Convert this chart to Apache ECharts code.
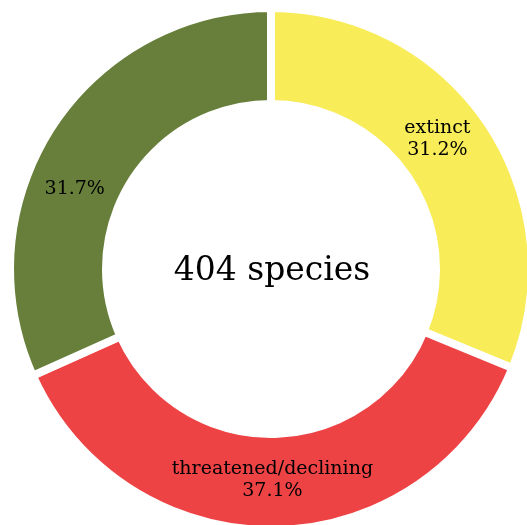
<!DOCTYPE html>
<html>
<head>
<meta charset="utf-8">
<script src="https://cdn.jsdelivr.net/npm/echarts@6/dist/echarts.min.js"></script>
<style>
html,body{margin:0;padding:0;background:#fff;}
#chart{width:527px;height:525px;}
</style>
</head>
<body>
<div id="chart"></div>
<script>
const categories = ['extinct', 'threatened/declining', ''];
const values = [31.2, 37.1, 31.7];
const colors = ['#F8EC58', '#EE4345', '#677F3B'];
const labelOffsets = [[-13, -10], [-2, -5], [-15, 38]];
const totalSpecies = 404;

const chart = echarts.init(document.getElementById('chart'));
const data = categories.map((name, i) => ({
  name: name,
  value: values[i],
  itemStyle: { color: colors[i] },
  label: { offset: labelOffsets[i] }
}));

chart.setOption({
  animation: false,
  backgroundColor: '#ffffff',
  graphic: [{
    type: 'text',
    x: 272,
    y: 271,
    style: {
      text: totalSpecies + ' species',
      font: '33px "DejaVu Serif"',
      fill: '#000',
      align: 'center',
      verticalAlign: 'middle'
    }
  }],
  series: [{
    type: 'pie',
    center: [271, 269],
    radius: [165, 261],
    startAngle: 90,
    clockwise: true,
    avoidLabelOverlap: false,
    itemStyle: { borderColor: '#ffffff', borderWidth: 8 },
    label: {
      show: true,
      position: 'inside',
      color: '#000',
      fontFamily: 'DejaVu Serif',
      fontSize: 19,
      lineHeight: 22,
      align: 'center',
      formatter: p => p.name ? p.name + '\n' + p.value + '%' : p.value + '%'
    },
    labelLine: { show: false },
    emphasis: { disabled: true },
    data: data
  }]
});
</script>
</body>
</html>
